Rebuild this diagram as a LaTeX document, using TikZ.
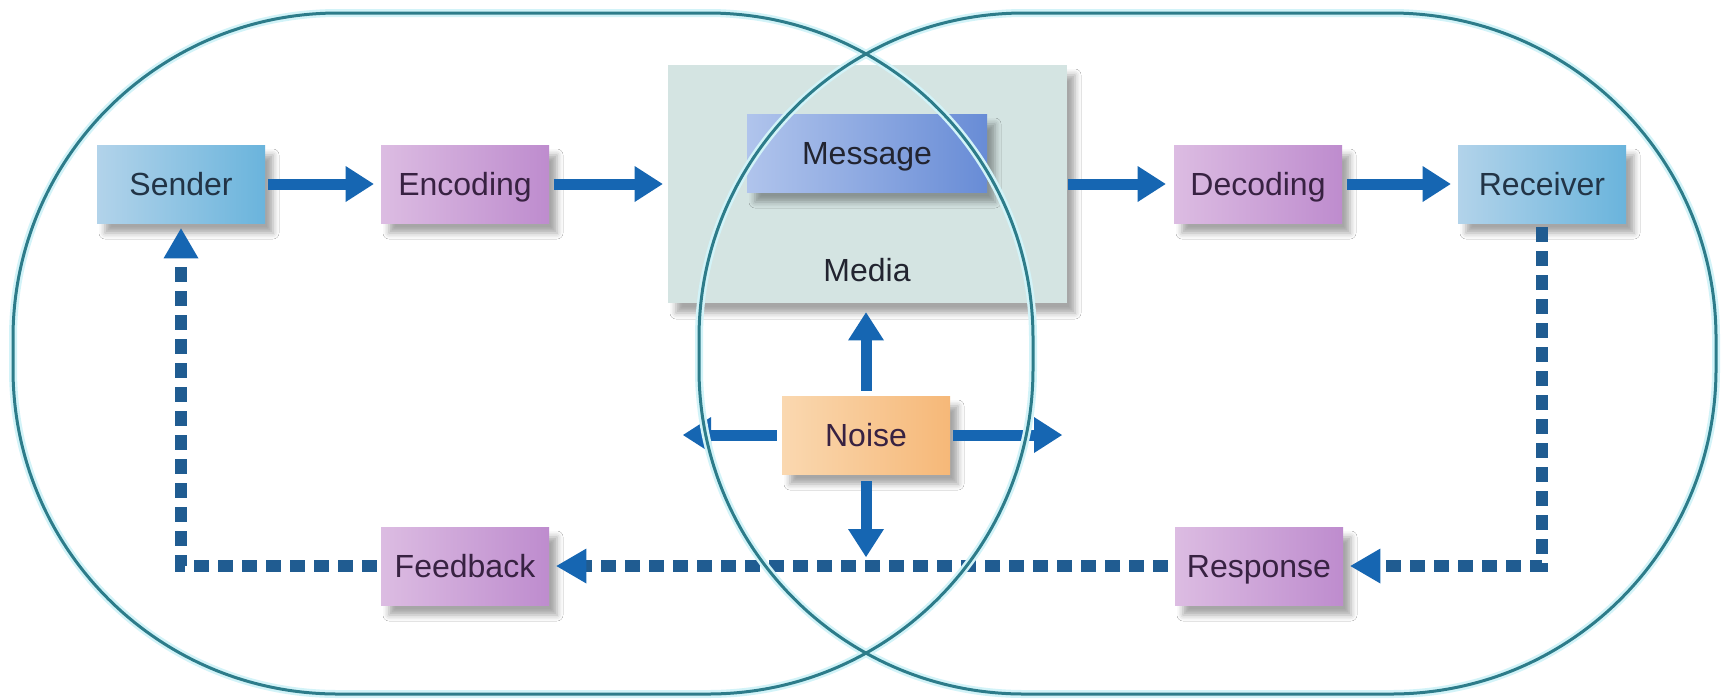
\documentclass[tikz,border=0pt]{standalone}
\usepackage{fontspec}
\setmainfont{Liberation Sans}
\usetikzlibrary{arrows.meta,shadows.blur}
\definecolor{outl}{RGB}{45,124,138}
\definecolor{glow}{RGB}{210,243,248}
\definecolor{arr}{RGB}{22,102,178}
\definecolor{dsh}{RGB}{32,92,145}
\definecolor{blueL}{RGB}{178,211,234}
\definecolor{blueR}{RGB}{106,180,220}
\definecolor{purL}{RGB}{220,188,226}
\definecolor{purR}{RGB}{190,140,206}
\definecolor{msgL}{RGB}{176,196,236}
\definecolor{msgR}{RGB}{104,140,214}
\definecolor{mediaC}{RGB}{212,228,226}
\definecolor{noiseL}{RGB}{250,216,176}
\definecolor{noiseR}{RGB}{246,184,120}
\definecolor{txtB}{RGB}{34,52,70}
\definecolor{txtP}{RGB}{56,34,66}
\definecolor{txtD}{RGB}{34,36,48}
\tikzset{
  box/.style={minimum width=84pt, minimum height=39pt, inner sep=0pt,
    text height=12pt, text depth=0.6pt,
    font=\fontsize{16}{19}\selectfont,
    blur shadow={shadow xshift=4pt, shadow yshift=-5pt, shadow blur radius=3pt, shadow opacity=35}},
  bluebox/.style={box, left color=blueL, right color=blueR, text=txtB},
  purplebox/.style={box, left color=purL, right color=purR, text=txtP},
  msgbox/.style={box, minimum width=120pt, left color=msgL, right color=msgR, text=txtD},
  mediabox/.style={box, minimum width=199.5pt, minimum height=119pt, fill=mediaC},
  noisebox/.style={box, left color=noiseL, right color=noiseR, text=txtP},
  lbl/.style={inner sep=0pt, text height=12pt, text depth=0.6pt,
    font=\fontsize{16}{19}\selectfont, text=txtD},
  solidarrow/.style={draw=arr, line width=5.5pt,
    -{Triangle[length=14pt,width=18pt,line width=0pt]}},
  dasharrow/.style={draw=dsh, line width=6pt, dash pattern=on 7.5pt off 4.5pt,
    -{Triangle[length=15pt,width=17.5pt,line width=0pt,color=arr]}},
  outlineglow/.style={draw=glow, line width=4pt, rounded corners=162.5pt},
  outlineline/.style={draw=outl, line width=1.5pt, rounded corners=162.5pt}
}
\begin{document}
\begin{tikzpicture}[x=0.5pt,y=-0.5pt]
\useasboundingbox (0,0) rectangle (1723,698);
\fill[white] (0,0) rectangle (1723,698);

% boxes
\node[mediabox] (media) at (867.5,184) {};
\node[lbl] (medialbl) at (867,270) {Media};
\node[msgbox] (message) at (867,153) {Message};
\node[bluebox] (sender) at (181,184) {Sender};
\node[purplebox] (encoding) at (465,184) {Encoding};
\node[purplebox] (decoding) at (1258,184) {Decoding};
\node[bluebox] (receiver) at (1542,184) {Receiver};
\node[noisebox] (noise) at (866,435) {Noise};
\node[purplebox] (feedback) at (465,566) {Feedback};
\node[purplebox] (response) at (1259,566) {Response};

\coordinate (noiseL) at (683,435);
\coordinate (noiseR) at (1062,435);
\coordinate (noiseD) at (866,557);

% solid arrows
\draw[solidarrow, shorten <=1.5pt, shorten >=3.5pt] (sender) -- (encoding);
\draw[solidarrow, shorten <=2.5pt, shorten >=2.5pt] (encoding) -- (media.west |- encoding);
\draw[solidarrow, shorten <=0.5pt, shorten >=4pt] (media.east |- decoding) -- (decoding);
\draw[solidarrow, shorten <=2.5pt, shorten >=3.5pt] (decoding) -- (receiver);
\draw[solidarrow, shorten <=2.5pt, shorten >=4.5pt] (noise.north) -- (noise.north |- media.south);
\draw[solidarrow, shorten <=2.5pt] (noise.west) -- (noiseL);
\draw[solidarrow, shorten <=1.5pt] (noise.east) -- (noiseR);
\draw[solidarrow, shorten <=3.5pt] (noise.south) -- (noiseD);

% dashed feedback loop
\draw[dasharrow, shorten <=2pt, shorten >=3.5pt] (receiver.south) |- (response.east);
\draw[dasharrow, shorten <=3.5pt, shorten >=3.5pt] (response.west) -- (feedback.east);
\draw[dasharrow, shorten <=2pt, shorten >=2.5pt] (feedback.west) -| (sender.south);

% outlines
\draw[outlineglow] (13,13) rectangle (1033,694);
\draw[outlineglow] (699,13) rectangle (1716,694);
\draw[outlineline] (13,13) rectangle (1033,694);
\draw[outlineline] (699,13) rectangle (1716,694);
\end{tikzpicture}
\end{document}
